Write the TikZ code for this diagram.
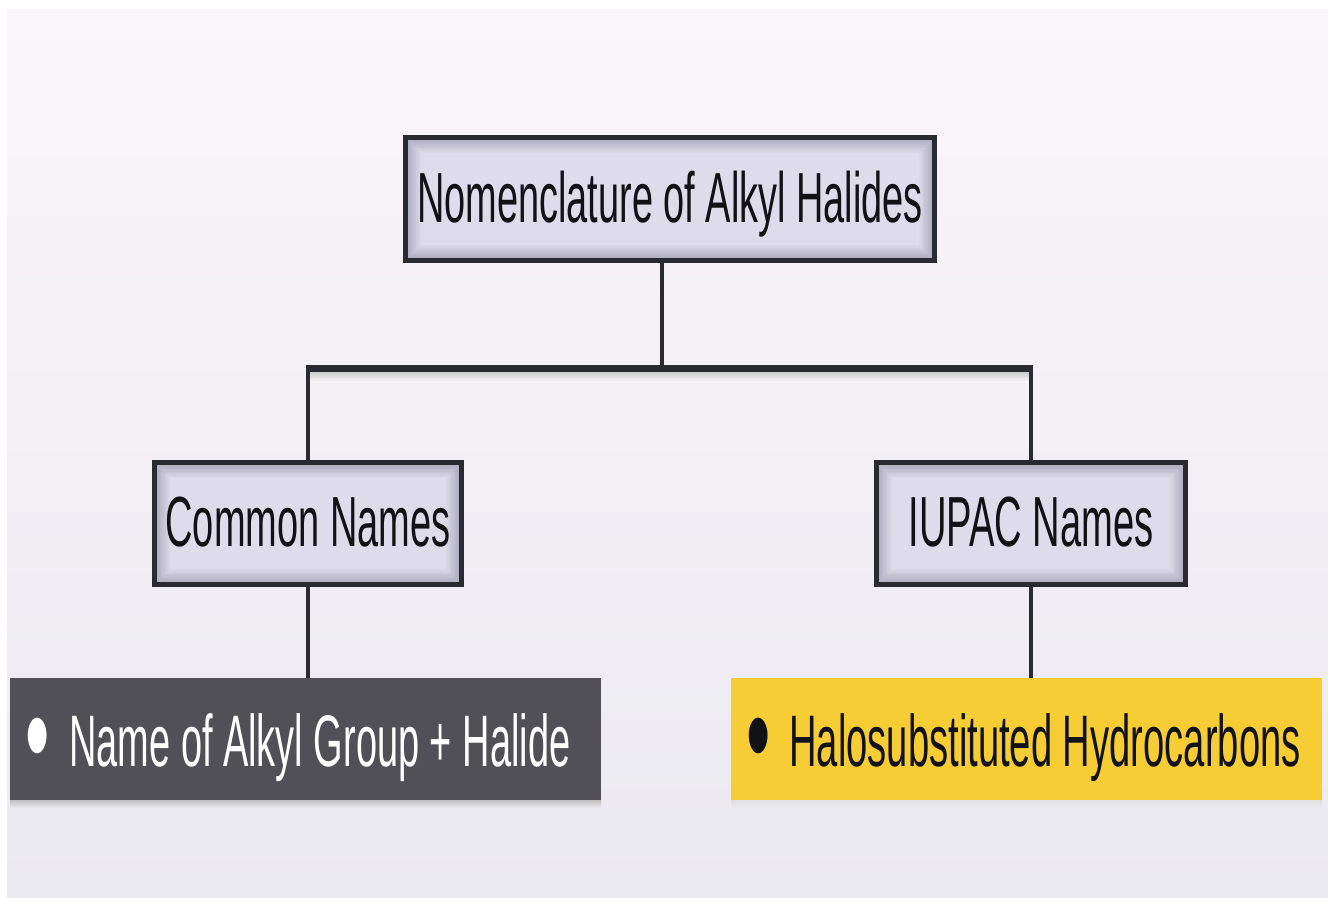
\documentclass[tikz,border=0pt]{standalone}
\usepackage{fontspec}
\setmainfont{Liberation Sans}
\usepackage{graphicx}
\definecolor{bgtop}{HTML}{FAF6FB}
\definecolor{bgbot}{HTML}{EBEAF0}
\definecolor{lavc}{HTML}{DEDCEA}
\definecolor{lave}{HTML}{A9A7BA}
\definecolor{boxline}{HTML}{2A2A31}
\definecolor{greybox}{HTML}{505056}
\definecolor{yellowbox}{HTML}{F7CD36}
\definecolor{txt}{HTML}{111116}
\newcommand\sxtext[2]{\scalebox{#1}[1]{#2}}
\newcommand\bigbul{\raisebox{-13pt}{\scalebox{0.95}[1.8]{\textbullet}}}
\newcommand\onbase[2]{\raisebox{#1}[0pt][0pt]{#2}}
\tikzset{
  glowfill/.style={path picture={
    \foreach \i [evaluate=\i as \p using int(100-\i*100/12)] in {0,...,12}{
      \fill[lave!\p!lavc] ([xshift=\i*1.3pt, yshift=-\i*1.3pt]path picture bounding box.north west)
        rectangle ([xshift=-\i*1.3pt, yshift=\i*1.3pt]path picture bounding box.south east);
    }}},
  catbox/.style={draw=boxline, line width=5pt, glowfill, rectangle, inner sep=0pt, text=txt},
  leafbox/.style={rectangle, inner sep=0pt, draw=none},
  vline/.style={draw=boxline, line width=3.5pt},
  hbar/.style={draw=boxline, line width=7pt}
}
\begin{document}
\begin{tikzpicture}[x=1pt,y=-1pt]
\useasboundingbox (0,0) rectangle (1328,897);
\fill[white] (0,0) rectangle (1328,897);
\shade[top color=bgtop, bottom color=bgbot] (7,9) rectangle (1328,897);
% soft shadows
\shade[top color=black!22, bottom color=bgtop] (306,371) rectangle (1033,382);
\shade[top color=black!25, bottom color=bgbot] (10,800) rectangle (601,808);
\shade[top color=black!12, bottom color=bgbot] (731,800) rectangle (1322,808);

\node[catbox, minimum width=529pt, minimum height=123pt] (top) at (670,199)
  {\onbase{-23pt}{\fontsize{71}{80}\selectfont\sxtext{0.534}{Nomenclature of Alkyl Halides}}};
\node[catbox, minimum width=307pt, minimum height=122pt] (common) at (308,523.5)
  {\onbase{-22.5pt}{\fontsize{71}{80}\selectfont\sxtext{0.535}{Common Names}}};
\node[catbox, minimum width=309pt, minimum height=122pt] (iupac) at (1031,523.5)
  {\onbase{-22.5pt}{\fontsize{71}{80}\selectfont\sxtext{0.537}{IUPAC Names}}};

\node[leafbox, fill=greybox, minimum width=591pt, minimum height=122pt, text=white] (alkyl) at (305.5,739)
  {\makebox[591pt][l]{\hspace{15pt}\onbase{-27pt}{\fontsize{73}{80}\selectfont\bigbul\hspace{20pt}\sxtext{0.52}{Name of Alkyl Group + Halide}}}};
\node[leafbox, fill=yellowbox, minimum width=591pt, minimum height=122pt, text=txt] (halo) at (1026.5,739)
  {\makebox[591pt][l]{\hspace{15pt}\onbase{-27pt}{\fontsize{73}{80}\selectfont\bigbul\hspace{19pt}\sxtext{0.523}{Halosubstituted Hydrocarbons}}}};

\coordinate (bary) at (0,368);
\draw[vline] ([xshift=-8pt]top.south) -- ([xshift=-8pt]top.south |- bary);
\draw[hbar] ([xshift=-1.75pt]common.north |- bary) -- ([xshift=1.75pt]iupac.north |- bary);
\draw[vline] (common.north |- bary) -- (common.north);
\draw[vline] (iupac.north |- bary) -- (iupac.north);
\draw[vline] (common.south) -- (common.south |- alkyl.north);
\draw[vline] (iupac.south) -- (iupac.south |- halo.north);
\end{tikzpicture}
\end{document}
